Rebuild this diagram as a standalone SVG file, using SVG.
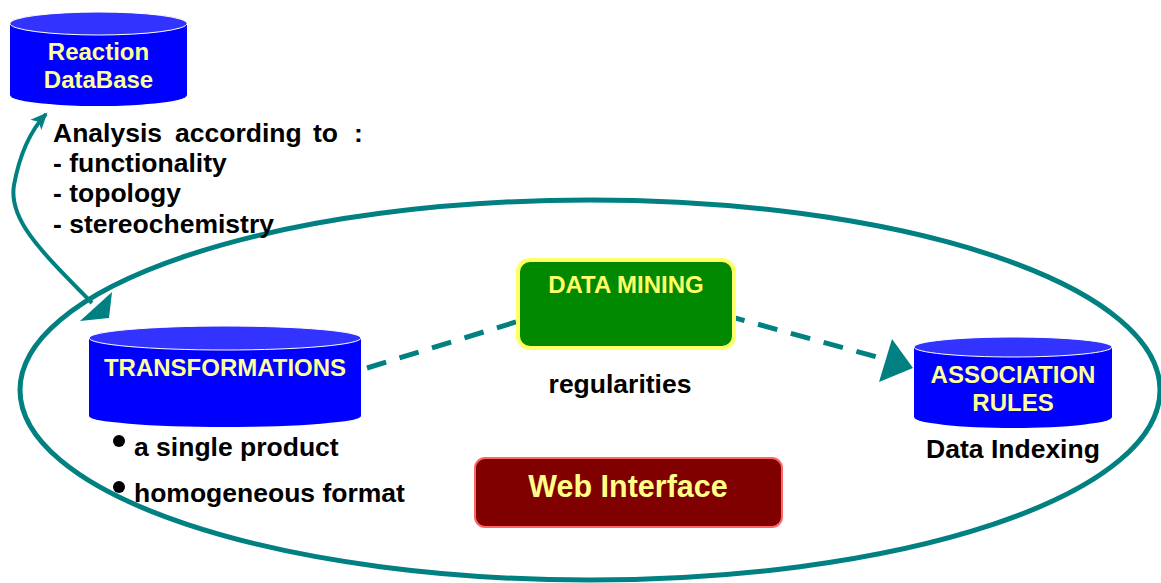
<svg xmlns="http://www.w3.org/2000/svg" width="1161" height="583" viewBox="0 0 1161 583">
<style>
.lbl{font-family:"Liberation Sans",Arial,sans-serif;font-weight:bold;font-size:26.5px;fill:#000}
.yl{font-family:"Liberation Sans",Arial,sans-serif;font-weight:bold;font-size:24px;fill:#FFFF99;text-anchor:middle}
.body{fill:#0000FF}
.top{fill:#3333FF;stroke:#FFFFFF;stroke-width:1}
.teal{stroke:#008080;fill:none}
</style>
<defs>
<marker id="barb" viewBox="0 0 16 16" refX="14" refY="8" markerWidth="17" markerHeight="17" markerUnits="userSpaceOnUse" orient="auto">
<path d="M0,1 L16,8 L0,15 L4,8 Z" fill="#008080"/>
</marker>
</defs>
<g id="boundary">
<ellipse cx="590" cy="390" rx="570" ry="190" class="teal" stroke-width="5"/>
<polygon points="112,292 109,318 80,321" fill="#008080"/>
</g>
<g id="connectors">
<path d="M92,303 C42,252 8,220 14,185 C20,152 33,128 46,114" class="teal" stroke-width="4" marker-end="url(#barb)"/>
<path d="M367,368 L626,288 L888,360" class="teal" stroke-width="5" stroke-dasharray="20 14"/>
<polygon points="892,339 913,368 879,382" fill="#008080"/>
</g>
<g id="reaction-db">
<path d="M10,23.5 L10,95 A88.5,11 0 0 0 187,95 L187,23.5 Z" class="body"/>
<ellipse cx="98.5" cy="23.5" rx="88.5" ry="11.5" class="top"/>
<text x="98.5" y="60" class="yl">Reaction</text>
<text x="98.5" y="88" class="yl">DataBase</text>
</g>
<g id="analysis">
<text class="lbl"><tspan x="53" y="142">Analysis</tspan><tspan x="175" y="142">according</tspan><tspan x="313" y="142">to</tspan><tspan x="354" y="142">:</tspan></text>
<text x="53" y="172" class="lbl">- functionality</text>
<text x="53" y="202" class="lbl">- topology</text>
<text x="53" y="233" class="lbl">- stereochemistry</text>
</g>
<g id="transformations">
<path d="M89,338 L89,416 A136,11 0 0 0 361,416 L361,338 Z" class="body"/>
<ellipse cx="225" cy="338" rx="136" ry="12" class="top"/>
<text x="225" y="376" class="yl">TRANSFORMATIONS</text>
</g>
<g id="transform-notes">
<circle cx="119" cy="441" r="6" fill="#000"/>
<text x="134" y="456" class="lbl">a single product</text>
<circle cx="119" cy="487" r="6" fill="#000"/>
<text x="134" y="502" class="lbl">homogeneous format</text>
</g>
<g id="data-mining">
<rect x="518" y="260" width="216" height="88" rx="12" fill="#008800" stroke="#FFFF66" stroke-width="4"/>
<text x="626" y="293" class="yl" style="fill:#FFFF66">DATA MINING</text>
</g>
<g id="regularities">
<text x="620" y="393" class="lbl" text-anchor="middle">regularities</text>
</g>
<g id="association-rules">
<path d="M914,347 L914,417 A99,11 0 0 0 1112,417 L1112,347 Z" class="body"/>
<ellipse cx="1013" cy="347" rx="99" ry="10" class="top"/>
<text x="1013" y="383" class="yl">ASSOCIATION</text>
<text x="1013" y="411" class="yl">RULES</text>
<text x="1013" y="458" class="lbl" text-anchor="middle">Data Indexing</text>
</g>
<g id="web-interface">
<rect x="475" y="458" width="307" height="69" rx="10" fill="#800000" stroke="#FF6666" stroke-width="2"/>
<text x="628" y="497" class="yl" style="font-size:30.5px;fill:#FFFF88">Web Interface</text>
</g>
</svg>
